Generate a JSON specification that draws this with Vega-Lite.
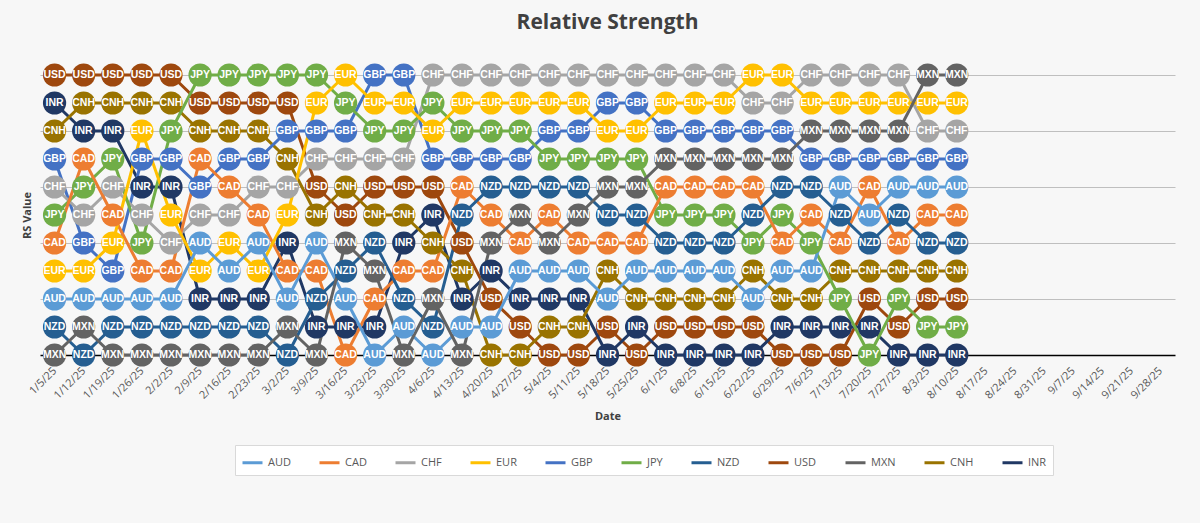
{
  "$schema": "https://vega.github.io/schema/vega-lite/v6.json",
  "autosize": {"type": "none"},
  "width": 1135,
  "height": 280,
  "padding": {"left": 40, "top": 75, "right": 25, "bottom": 168},
  "background": "#f7f7f7",
  "title": {"text": "Relative Strength", "fontSize": 21, "font": "Open Sans", "fontWeight": "bold", "color": "#404040", "offset": 30},
  "data": {"values": [
    {"d":"1/5/25","11":"USD","10":"INR","9":"CNH","8":"GBP","7":"CHF","6":"JPY","5":"CAD","4":"EUR","3":"AUD","2":"NZD","1":"MXN"},
    {"d":"1/12/25","11":"USD","10":"CNH","9":"INR","8":"CAD","7":"JPY","6":"CHF","5":"GBP","4":"EUR","3":"AUD","2":"MXN","1":"NZD"},
    {"d":"1/19/25","11":"USD","10":"CNH","9":"INR","8":"JPY","7":"CHF","6":"CAD","5":"EUR","4":"GBP","3":"AUD","2":"NZD","1":"MXN"},
    {"d":"1/26/25","11":"USD","10":"CNH","9":"EUR","8":"GBP","7":"INR","6":"CHF","5":"JPY","4":"CAD","3":"AUD","2":"NZD","1":"MXN"},
    {"d":"2/2/25","11":"USD","10":"CNH","9":"JPY","8":"GBP","7":"INR","6":"EUR","5":"CHF","4":"CAD","3":"AUD","2":"NZD","1":"MXN"},
    {"d":"2/9/25","11":"JPY","10":"USD","9":"CNH","8":"CAD","7":"GBP","6":"CHF","5":"AUD","4":"EUR","3":"INR","2":"NZD","1":"MXN"},
    {"d":"2/16/25","11":"JPY","10":"USD","9":"CNH","8":"GBP","7":"CAD","6":"CHF","5":"EUR","4":"AUD","3":"INR","2":"NZD","1":"MXN"},
    {"d":"2/23/25","11":"JPY","10":"USD","9":"CNH","8":"GBP","7":"CHF","6":"CAD","5":"AUD","4":"EUR","3":"INR","2":"NZD","1":"MXN"},
    {"d":"3/2/25","11":"JPY","10":"USD","9":"GBP","8":"CNH","7":"CHF","6":"EUR","5":"INR","4":"CAD","3":"AUD","2":"MXN","1":"NZD"},
    {"d":"3/9/25","11":"JPY","10":"EUR","9":"GBP","8":"CHF","7":"USD","6":"CNH","5":"AUD","4":"CAD","3":"NZD","2":"INR","1":"MXN"},
    {"d":"3/16/25","11":"EUR","10":"JPY","9":"GBP","8":"CHF","7":"CNH","6":"USD","5":"MXN","4":"NZD","3":"AUD","2":"INR","1":"CAD"},
    {"d":"3/23/25","11":"GBP","10":"EUR","9":"JPY","8":"CHF","7":"USD","6":"CNH","5":"NZD","4":"MXN","3":"CAD","2":"INR","1":"AUD"},
    {"d":"3/30/25","11":"GBP","10":"EUR","9":"JPY","8":"CHF","7":"USD","6":"CNH","5":"INR","4":"CAD","3":"NZD","2":"AUD","1":"MXN"},
    {"d":"4/6/25","11":"CHF","10":"JPY","9":"EUR","8":"GBP","7":"USD","6":"INR","5":"CNH","4":"CAD","3":"MXN","2":"NZD","1":"AUD"},
    {"d":"4/13/25","11":"CHF","10":"EUR","9":"JPY","8":"GBP","7":"CAD","6":"NZD","5":"USD","4":"CNH","3":"INR","2":"AUD","1":"MXN"},
    {"d":"4/20/25","11":"CHF","10":"EUR","9":"JPY","8":"GBP","7":"NZD","6":"CAD","5":"MXN","4":"INR","3":"USD","2":"AUD","1":"CNH"},
    {"d":"4/27/25","11":"CHF","10":"EUR","9":"JPY","8":"GBP","7":"NZD","6":"MXN","5":"CAD","4":"AUD","3":"INR","2":"USD","1":"CNH"},
    {"d":"5/4/25","11":"CHF","10":"EUR","9":"GBP","8":"JPY","7":"NZD","6":"CAD","5":"MXN","4":"AUD","3":"INR","2":"CNH","1":"USD"},
    {"d":"5/11/25","11":"CHF","10":"EUR","9":"GBP","8":"JPY","7":"NZD","6":"MXN","5":"CAD","4":"AUD","3":"INR","2":"CNH","1":"USD"},
    {"d":"5/18/25","11":"CHF","10":"GBP","9":"EUR","8":"JPY","7":"MXN","6":"NZD","5":"CAD","4":"CNH","3":"AUD","2":"USD","1":"INR"},
    {"d":"5/25/25","11":"CHF","10":"GBP","9":"EUR","8":"JPY","7":"MXN","6":"NZD","5":"CAD","4":"AUD","3":"CNH","2":"INR","1":"USD"},
    {"d":"6/1/25","11":"CHF","10":"EUR","9":"GBP","8":"MXN","7":"CAD","6":"JPY","5":"NZD","4":"AUD","3":"CNH","2":"USD","1":"INR"},
    {"d":"6/8/25","11":"CHF","10":"EUR","9":"GBP","8":"MXN","7":"CAD","6":"JPY","5":"NZD","4":"AUD","3":"CNH","2":"USD","1":"INR"},
    {"d":"6/15/25","11":"CHF","10":"EUR","9":"GBP","8":"MXN","7":"CAD","6":"JPY","5":"NZD","4":"AUD","3":"CNH","2":"USD","1":"INR"},
    {"d":"6/22/25","11":"EUR","10":"CHF","9":"GBP","8":"MXN","7":"CAD","6":"NZD","5":"JPY","4":"CNH","3":"AUD","2":"USD","1":"INR"},
    {"d":"6/29/25","11":"EUR","10":"CHF","9":"GBP","8":"MXN","7":"NZD","6":"JPY","5":"CAD","4":"AUD","3":"CNH","2":"INR","1":"USD"},
    {"d":"7/6/25","11":"CHF","10":"EUR","9":"MXN","8":"GBP","7":"NZD","6":"CAD","5":"JPY","4":"AUD","3":"CNH","2":"INR","1":"USD"},
    {"d":"7/13/25","11":"CHF","10":"EUR","9":"MXN","8":"GBP","7":"AUD","6":"NZD","5":"CAD","4":"CNH","3":"JPY","2":"INR","1":"USD"},
    {"d":"7/20/25","11":"CHF","10":"EUR","9":"MXN","8":"GBP","7":"CAD","6":"AUD","5":"NZD","4":"CNH","3":"USD","2":"INR","1":"JPY"},
    {"d":"7/27/25","11":"CHF","10":"EUR","9":"MXN","8":"GBP","7":"AUD","6":"NZD","5":"CAD","4":"CNH","3":"JPY","2":"USD","1":"INR"},
    {"d":"8/3/25","11":"MXN","10":"EUR","9":"CHF","8":"GBP","7":"AUD","6":"CAD","5":"NZD","4":"CNH","3":"USD","2":"JPY","1":"INR"},
    {"d":"8/10/25","11":"MXN","10":"EUR","9":"CHF","8":"GBP","7":"AUD","6":"CAD","5":"NZD","4":"CNH","3":"USD","2":"JPY","1":"INR"}
  ]},
  "transform": [
    {"fold": ["11","10","9","8","7","6","5","4","3","2","1"], "as": ["rank", "c"]}
  ],
  "encoding": {
    "x": {"field": "d", "type": "ordinal", "title": "Date",
      "scale": {"type": "point", "padding": 0.5, "domain": ["1/5/25","1/12/25","1/19/25","1/26/25","2/2/25","2/9/25","2/16/25","2/23/25","3/2/25","3/9/25","3/16/25","3/23/25","3/30/25","4/6/25","4/13/25","4/20/25","4/27/25","5/4/25","5/11/25","5/18/25","5/25/25","6/1/25","6/8/25","6/15/25","6/22/25","6/29/25","7/6/25","7/13/25","7/20/25","7/27/25","8/3/25","8/10/25","8/17/25","8/24/25","8/31/25","9/7/25","9/14/25","9/21/25","9/28/25"]},
      "axis": {"labelAngle": -45, "labelAlign": "right", "labelBaseline": "middle", "labelPadding": 14, "labelFontSize": 11, "labelColor": "#595959", "labelFont": "Open Sans", "ticks": false, "domainColor": "#000000", "domainWidth": 1.5, "titleFontSize": 11, "titleFont": "Open Sans", "titleColor": "#404040", "titlePadding": 10, "grid": false}},
    "y": {"field": "rank", "type": "ordinal", "title": "RS Value",
      "scale": {"type": "point", "padding": 0, "domain": ["11","10","9","8","7","6","5","4","3","2","1"]},
      "axis": {"labels": false, "ticks": false, "domain": false, "grid": true, "values": ["11","9","7","5","3"], "gridColor": "#bfbfbf", "titleFontSize": 11, "titleFont": "Open Sans", "titleColor": "#404040", "titlePadding": 8}},
    "color": {"field": "c", "type": "nominal", "title": null,
      "scale": {"domain": ["AUD","CAD","CHF","EUR","GBP","JPY","NZD","USD","MXN","CNH","INR"],
        "range": ["#5B9BD5","#ED7D31","#A5A5A5","#FFC000","#4472C4","#70AD47","#255E91","#9E480E","#636363","#997300","#203864"]},
      "legend": {"orient": "none", "direction": "horizontal", "legendX": 195, "legendY": 370, "symbolType": "stroke", "symbolStrokeWidth": 3, "symbolSize": 400, "columnPadding": 22, "labelFontSize": 11, "labelFont": "Open Sans", "labelColor": "#595959", "strokeColor": "#d9d9d9", "padding": 6, "fillColor": "#ffffff"}}
  },
  "layer": [
    {"mark": {"type": "line", "strokeWidth": 3}, "encoding": {"detail": {"field": "c"}}},
    {"mark": {"type": "circle", "size": 540, "opacity": 1}},
    {"mark": {"type": "text", "color": "white", "fontWeight": "bold", "fontSize": 10.5, "font": "Liberation Sans"}, "encoding": {"text": {"field": "c"}, "color": {"value": "white"}}}
  ],
  "config": {"view": {"stroke": null}}
}
